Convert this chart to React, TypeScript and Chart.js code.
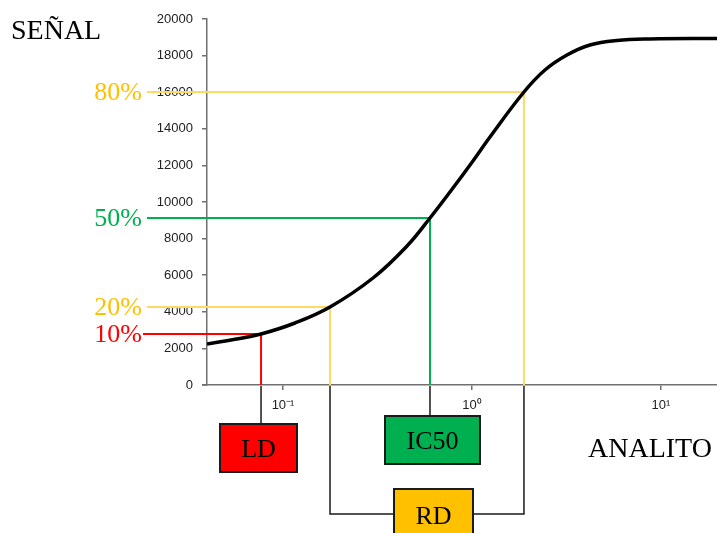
import React, { useEffect, useRef } from 'react';
import { Chart, registerables } from 'chart.js';
Chart.register(...registerables);

// Curve (analyte concentration vs signal)
const analito = [0.0396, 0.0557, 0.0765, 0.1157, 0.1773, 0.2994, 0.453, 0.5995, 0.7648, 1.012, 1.245, 1.884, 2.433, 3.182, 4.21, 5.85, 8.747, 19.8];
const senal = [2240, 2500, 2787, 3388, 4262, 5847, 7596, 9126, 10546, 12240, 13552, 16011, 17213, 18033, 18579, 18825, 18907, 18934];

// Guide levels
const guidePct = ['10%', '20%', '50%', '80%'];
const guideX = [0.0765, 0.1773, 0.5995, 1.884];
const guideY = [2787, 4262, 9126, 16011];
const guideLine = ['#FF0000', '#FFD966', '#00B050', '#FFD966'];
const guideText = ['#FF0000', '#FFC000', '#00B050', '#FFC000'];

// Axis ticks
const xTickValues = [0.1, 1, 10];
const xTickLabels = ['10⁻¹', '10⁰', '10¹'];
const yTickValues = [0, 2000, 4000, 6000, 8000, 10000, 12000, 14000, 16000, 18000, 20000];

const boxLabels = ['LD', 'IC50', 'RD'];
const boxColors = ['#FF0000', '#00B050', '#FFC000'];

const SERIF = '"Liberation Serif", "Times New Roman", serif';

const overlay = {
  id: 'overlay',
  beforeDatasetsDraw(chart: any) {
    const { ctx, scales } = chart;
    const x = scales.x, y = scales.y;
    ctx.save();
    for (let i = 0; i < guideX.length; i++) {
      const px = x.getPixelForValue(guideX[i]);
      const py = y.getPixelForValue(guideY[i]);
      ctx.strokeStyle = guideLine[i];
      ctx.lineWidth = 2;
      ctx.beginPath();
      ctx.moveTo(i === 0 ? 143 : 147, py);
      ctx.lineTo(px, py);
      ctx.lineTo(px, y.bottom);
      ctx.stroke();
    }
    ctx.restore();
  },
  afterDraw(chart: any) {
    const { ctx, scales } = chart;
    const x = scales.x, y = scales.y;
    ctx.save();
    // small extension of x axis line to the left
    ctx.strokeStyle = '#707070';
    ctx.lineWidth = 1.5;
    ctx.beginPath();
    ctx.moveTo(202, y.bottom);
    ctx.lineTo(x.left, y.bottom);
    ctx.stroke();
    // percent labels
    ctx.font = `26px ${SERIF}`;
    ctx.textAlign = 'right';
    ctx.textBaseline = 'middle';
    for (let i = 0; i < guideX.length; i++) {
      const py = y.getPixelForValue(guideY[i]);
      ctx.fillStyle = guideText[i];
      ctx.fillText(guidePct[i], 142, py + 1);
    }
    // connectors
    const pLD = x.getPixelForValue(guideX[0]);
    const pR1 = x.getPixelForValue(guideX[1]);
    const pIC = x.getPixelForValue(guideX[2]);
    const pR2 = x.getPixelForValue(guideX[3]);
    const yb = y.bottom + 1;
    ctx.strokeStyle = '#1a1a1a';
    ctx.lineWidth = 1.5;
    ctx.beginPath();
    ctx.moveTo(pLD, yb); ctx.lineTo(pLD, 424);
    ctx.moveTo(pIC, yb); ctx.lineTo(pIC, 416);
    ctx.moveTo(pR1, yb); ctx.lineTo(pR1, 514); ctx.lineTo(394, 514);
    ctx.moveTo(pR2, yb); ctx.lineTo(pR2, 514); ctx.lineTo(473, 514);
    ctx.stroke();
    // boxes
    const boxes = [
      { x: 220, y: 424, w: 77, h: 48 },
      { x: 385, y: 416, w: 95, h: 48 },
      { x: 394, y: 489, w: 79, h: 60 },
    ];
    ctx.textAlign = 'center';
    ctx.textBaseline = 'middle';
    for (let i = 0; i < boxes.length; i++) {
      const b = boxes[i];
      ctx.fillStyle = boxColors[i];
      ctx.fillRect(b.x, b.y, b.w, b.h);
      ctx.strokeStyle = '#1a1a1a';
      ctx.lineWidth = 2;
      ctx.strokeRect(b.x, b.y, b.w, b.h);
      ctx.fillStyle = '#000';
      ctx.fillText(boxLabels[i], b.x + b.w / 2, i === 2 ? 517 : b.y + b.h / 2 + 2);
    }
    // axis titles
    ctx.font = `28px ${SERIF}`;
    ctx.textAlign = 'left';
    ctx.textBaseline = 'alphabetic';
    ctx.fillText('SEÑAL', 11, 39);
    ctx.fillText('ANALITO', 588, 457);
    ctx.restore();
  },
};

export default function App() {
  const ref = useRef<HTMLCanvasElement>(null);
  useEffect(() => {
    if (!ref.current) return;
    const chart = new Chart(ref.current, {
      type: 'line',
      data: {
        datasets: [
          {
            data: analito.map((a, i) => ({ x: a, y: senal[i] })),
            borderColor: '#000',
            borderWidth: 3.5,
            pointRadius: 0,
            tension: 0.4,
            fill: false,
          },
        ],
      },
      options: {
        animation: false,
        responsive: true,
        maintainAspectRatio: false,
        layout: { padding: { top: 19, left: 0, right: 0, bottom: 0 } },
        plugins: { legend: { display: false }, tooltip: { enabled: false } },
        scales: {
          x: {
            type: 'logarithmic',
            min: 0.0396,
            max: 19.8,
            afterFit: (s: any) => { s.height = 148; },
            afterBuildTicks: (s: any) => { s.ticks = xTickValues.map((v) => ({ value: v })); },
            grid: { drawOnChartArea: false, drawTicks: true, tickLength: 5, color: '#707070', lineWidth: 1.5 },
            border: { display: true, color: '#707070', width: 1.5 },
            ticks: {
              autoSkip: false,
              maxRotation: 0,
              padding: 8,
              color: '#222',
              font: { family: '"Liberation Sans", Arial, sans-serif', size: 13 },
              callback: (v: any) => {
                const i = xTickValues.indexOf(Number(v));
                return i >= 0 ? xTickLabels[i] : '';
              },
            },
          },
          y: {
            min: 0,
            max: 20000,
            afterFit: (s: any) => { s.width = 207; },
            afterBuildTicks: (s: any) => { s.ticks = yTickValues.map((v) => ({ value: v })); },
            grid: { drawOnChartArea: false, drawTicks: true, tickLength: 5, color: '#707070', lineWidth: 1.5 },
            border: { display: true, color: '#707070', width: 1.5 },
            ticks: {
              padding: 9,
              color: '#222',
              font: { family: '"Liberation Sans", Arial, sans-serif', size: 13 },
              callback: (v: any) => String(v),
            },
          },
        },
      },
      plugins: [overlay],
    } as any);
    return () => chart.destroy();
  }, []);
  return (
    <div style={{ position: 'fixed', left: 0, top: 0, width: 717, height: 533, background: '#fff' }}>
      <canvas ref={ref} />
    </div>
  );
}
